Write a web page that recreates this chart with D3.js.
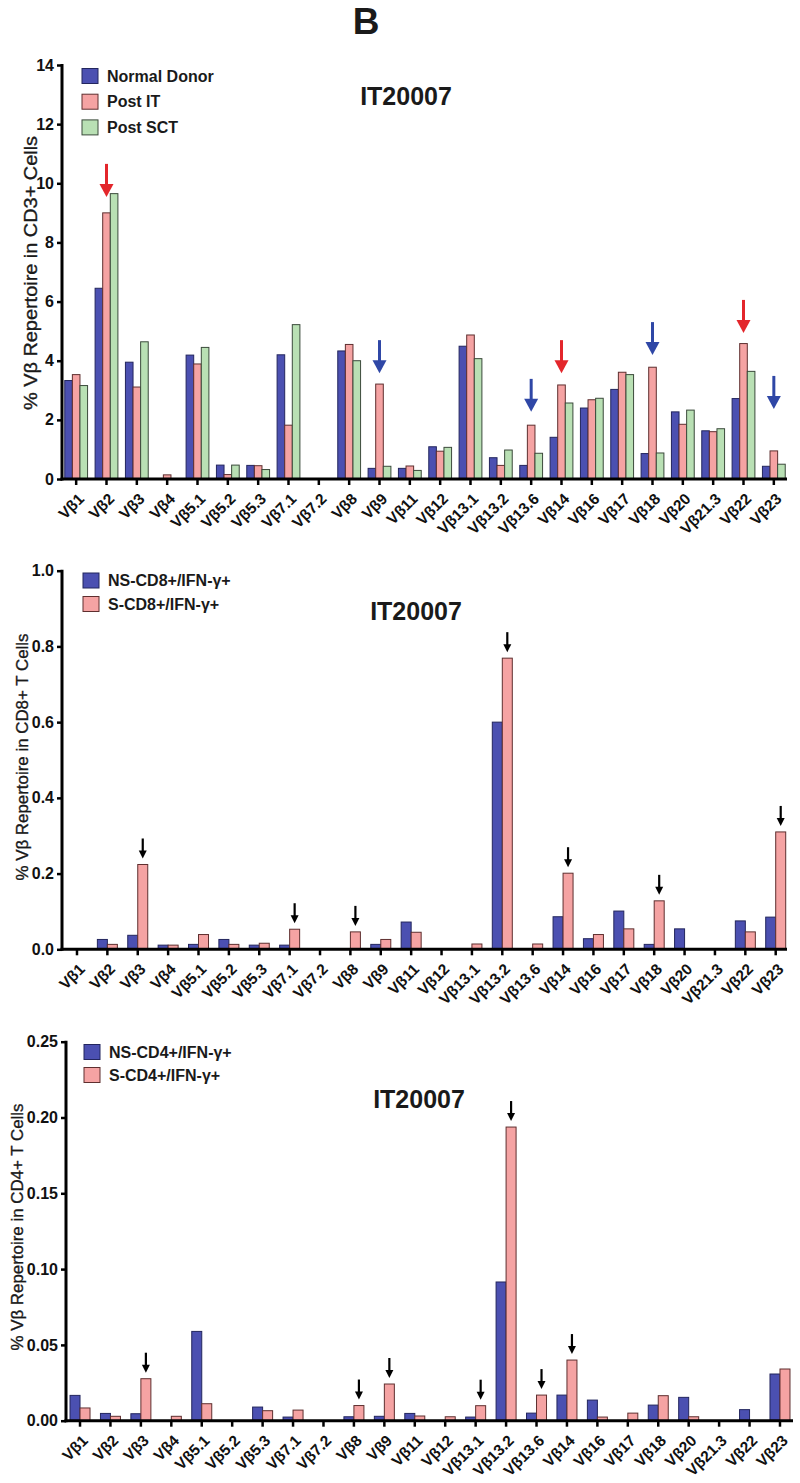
<!DOCTYPE html>
<html><head><meta charset="utf-8">
<script src="https://cdn.jsdelivr.net/npm/d3@7"></script>
<style>
html,body{margin:0;padding:0;background:#fff;}
svg{display:block;font-family:"Liberation Sans",Arial,Helvetica,sans-serif;}
</style></head>
<body>
<svg id="chart" width="800" height="1483"></svg>
<script>
const categories = ["Vβ1","Vβ2","Vβ3","Vβ4","Vβ5.1","Vβ5.2","Vβ5.3","Vβ7.1","Vβ7.2","Vβ8","Vβ9","Vβ11","Vβ12","Vβ13.1","Vβ13.2","Vβ13.6","Vβ14","Vβ16","Vβ17","Vβ18","Vβ20","Vβ21.3","Vβ22","Vβ23"];

// Panel 1: % Vβ repertoire in CD3+ cells
const cd3Series = ["Normal Donor","Post IT","Post SCT"];
const cd3Normal  = [3.33,6.45,3.95,0,4.19,0.47,0.46,4.20,0,4.33,0.36,0.36,1.09,4.49,0.72,0.46,1.41,2.40,3.03,0.86,2.27,1.63,2.72,0.43];
const cd3PostIT  = [3.53,9.00,3.11,0.14,3.89,0.15,0.45,1.82,0,4.55,3.21,0.44,0.94,4.87,0.46,1.82,3.18,2.68,3.61,3.78,1.85,1.60,4.58,0.95];
const cd3PostSCT = [3.16,9.65,4.64,0,4.45,0.47,0.32,5.22,0,4.00,0.43,0.29,1.07,4.07,0.98,0.87,2.57,2.73,3.53,0.88,2.33,1.70,3.64,0.50];
const cd3Ticks = [0,2,4,6,8,10,12,14];
const cd3RedArrows  = ["Vβ2","Vβ14","Vβ22"];
const cd3RedTips    = [9.54,3.58,4.94];
const cd3BlueArrows = ["Vβ9","Vβ13.6","Vβ18","Vβ23"];
const cd3BlueTips   = [3.58,2.27,4.19,2.37];

// Panel 2: % Vβ repertoire in CD8+ T cells
const cd8Series = ["NS-CD8+/IFN-γ+","S-CD8+/IFN-γ+"];
const cd8NS = [0,0.026,0.037,0.011,0.013,0.026,0.011,0.011,0,0,0.013,0.072,0,0,0.600,0,0.086,0.028,0.101,0.013,0.054,0,0.075,0.085];
const cd8S  = [0,0.013,0.224,0.011,0.039,0.013,0.016,0.053,0,0.046,0.026,0.045,0,0.014,0.769,0.014,0.201,0.039,0.054,0.128,0,0,0.046,0.310];
const cd8Ticks = [0,0.2,0.4,0.6,0.8,1.0];
const cd8Arrows = ["Vβ3","Vβ7.1","Vβ8","Vβ13.2","Vβ14","Vβ18","Vβ23"];

// Panel 3: % Vβ repertoire in CD4+ T cells
const cd4Series = ["NS-CD4+/IFN-γ+","S-CD4+/IFN-γ+"];
const cd4NS = [0.0167,0.0048,0.0046,0,0.0589,0,0.0090,0.0024,0,0.0026,0.0029,0.0048,0,0.0024,0.0915,0.0050,0.0169,0.0136,0,0.0103,0.0154,0,0.0073,0.0308];
const cd4S  = [0.0084,0.0029,0.0277,0.0029,0.0112,0,0.0066,0.0070,0,0.0100,0.0242,0.0031,0.0026,0.0099,0.1937,0.0169,0.0400,0.0024,0.0050,0.0165,0.0026,0,0,0.0341];
const cd4Ticks = [0,0.05,0.10,0.15,0.20,0.25];
const cd4Arrows = ["Vβ3","Vβ8","Vβ9","Vβ13.1","Vβ13.2","Vβ13.6","Vβ14"];

const panelTitle = "IT20007";
const figLetter = "B";

const COLORS = {
  blue:  {fill:"#4b50b1", stroke:"#23265e"},
  pink:  {fill:"#f5a3a3", stroke:"#5e2f2f"},
  green: {fill:"#b9e0b4", stroke:"#3b4a3b"}
};

const svg = d3.select("#chart");

svg.append("text").attr("x",366).attr("y",34).attr("text-anchor","middle")
  .attr("font-size",37).attr("font-weight","bold").attr("fill","#1a1a1a").text(figLetter);

function arrow(g, x, tipY, len, headW, headH, shaftW, color){
  g.append("line").attr("x1",x).attr("x2",x).attr("y1",tipY-len).attr("y2",tipY-headH+1)
    .attr("stroke",color).attr("stroke-width",shaftW);
  g.append("path").attr("d",`M${x-headW/2},${tipY-headH}L${x+headW/2},${tipY-headH}L${x},${tipY}Z`)
    .attr("fill",color);
}

function drawPanel(cfg){
  const g = svg.append("g");
  const x = d3.scaleBand().domain(categories).range(cfg.bandRange).paddingInner(0).paddingOuter(0);
  const y = d3.scaleLinear().domain([0, cfg.ymax]).range([cfg.y0, cfg.y1]);
  const inner = d3.scaleBand().domain(cfg.series.map((s,i)=>i)).range([0, cfg.barW*cfg.series.length]);
  const groupW = cfg.barW*cfg.series.length;

  // bars
  cfg.values.forEach((vals, si) => {
    const c = cfg.colors[si];
    g.append("g").selectAll("rect").data(categories.map((cat,i)=>({cat, v:vals[i]})).filter(d=>d.v>0))
      .join("rect")
      .attr("x", d => x(d.cat) + x.bandwidth()/2 - groupW/2 + inner(si))
      .attr("width", inner.bandwidth())
      .attr("y", d => y(d.v))
      .attr("height", d => y(0) - y(d.v))
      .attr("fill", c.fill).attr("stroke", c.stroke).attr("stroke-width", 1);
  });

  // y axis
  const yAxis = d3.axisLeft(y).tickValues(cfg.ticks).tickFormat(cfg.fmt).tickSize(5).tickSizeOuter(0).tickPadding(3);
  const ya = g.append("g").attr("transform",`translate(${cfg.xAxisLeft},0)`).call(yAxis);
  ya.select(".domain").attr("stroke","#000").attr("stroke-width",3).attr("d",`M0,${cfg.y1-1}V${cfg.y0+1.5}`);
  ya.selectAll(".tick line").attr("stroke","#000").attr("stroke-width",2.5);
  ya.selectAll(".tick text").attr("font-size",16).attr("font-weight","bold").attr("fill","#111")
    .attr("font-family","'Liberation Sans',Arial,sans-serif");

  // x axis
  const xAxis = d3.axisBottom(x).tickSize(6).tickSizeOuter(0).tickPadding(4);
  const xa = g.append("g").attr("transform",`translate(0,${cfg.y0})`).call(xAxis);
  xa.select(".domain").attr("stroke","#000").attr("stroke-width",3).attr("d",`M${cfg.xAxisLeft-1.5},0H${cfg.xAxisRight}`);
  xa.selectAll(".tick line").attr("stroke","#000").attr("stroke-width",2.5);
  xa.selectAll(".tick text")
    .attr("font-size",15.5).attr("font-weight","bold").attr("fill","#111")
    .attr("font-family","'Liberation Sans',Arial,sans-serif")
    .attr("text-anchor","end").attr("y",0).attr("dy","0.35em")
    .attr("transform","translate(5,17) rotate(-45)");

  // y label
  g.append("text").attr("transform",`translate(${cfg.ylabX},${cfg.ylabY}) rotate(-90)`)
    .attr("text-anchor","middle").attr("dy","0.35em")
    .attr("font-size",cfg.ylabSize).attr("fill","#1a1a1a")
    .attr("stroke","#1a1a1a").attr("stroke-width",0.35)
    .attr("textLength",cfg.ylabLen).attr("lengthAdjust","spacingAndGlyphs")
    .text(cfg.ylabel);

  // title
  g.append("text").attr("x",cfg.titleX).attr("y",cfg.titleY).attr("text-anchor","middle")
    .attr("font-size",25).attr("font-weight","bold").attr("fill","#1a1a1a").text(panelTitle);

  // legend
  cfg.series.forEach((s,i) => {
    const ly = cfg.legY + i*cfg.legStep;
    g.append("rect").attr("x",cfg.legX).attr("y",ly-7.5).attr("width",16).attr("height",15)
      .attr("fill",cfg.colors[i].fill).attr("stroke",cfg.colors[i].stroke).attr("stroke-width",1);
    g.append("text").attr("x",cfg.legX+25).attr("y",ly).attr("dy","0.35em")
      .attr("font-size",16).attr("font-weight","bold").attr("fill","#1a1a1a").text(s);
  });

  return {g, x, y, inner, groupW};
}

// Panel 1
const p1 = drawPanel({
  series: cd3Series, values:[cd3Normal, cd3PostIT, cd3PostSCT],
  colors:[COLORS.blue, COLORS.pink, COLORS.green],
  ymax:14, ticks:cd3Ticks, fmt:d3.format("d"),
  bandRange:[61,789], xAxisLeft:62, xAxisRight:787, y0:479, y1:65, barW:7.6,
  ylabel:"% Vβ Repertoire in CD3+ Cells", ylabX:31, ylabY:273, ylabSize:18, ylabLen:274,
  titleX:406, titleY:105, legX:82, legY:76, legStep:25.7
});
function cd3Arrows(cats, tips, color){
  cats.forEach((c,i) => {
    const cx = p1.x(c) + p1.x.bandwidth()/2;
    arrow(p1.g, cx, p1.y(tips[i]), 33, 14, 13, 3, color);
  });
}
cd3Arrows(cd3RedArrows, cd3RedTips, "#e3262b");
cd3Arrows(cd3BlueArrows, cd3BlueTips, "#2f47a6");

// Panel 2
const p2 = drawPanel({
  series: cd8Series, values:[cd8NS, cd8S],
  colors:[COLORS.blue, COLORS.pink],
  ymax:1.0, ticks:cd8Ticks, fmt:d3.format(".1f"),
  bandRange:[61.8,790.9], xAxisLeft:62, xAxisRight:787, y0:949.3, y1:570.7, barW:10,
  ylabel:"% Vβ Repertoire in CD8+ T Cells", ylabX:22, ylabY:757, ylabSize:17, ylabLen:247,
  titleX:416, titleY:620, legX:83, legY:580.5, legStep:23.5
});
function blackArrows(p, cats, svals){
  cats.forEach(c => {
    const i = categories.indexOf(c);
    const cx = p.x(c) + p.x.bandwidth()/2 - p.groupW/2 + p.inner(1) + p.inner.bandwidth()/2;
    arrow(p.g, cx, p.y(svals[i]) - 6, 20, 8, 8, 2.2, "#000");
  });
}
blackArrows(p2, cd8Arrows, cd8S);

// Panel 3
const p3 = drawPanel({
  series: cd4Series, values:[cd4NS, cd4S],
  colors:[COLORS.blue, COLORS.pink],
  ymax:0.25, ticks:cd4Ticks, fmt:d3.format(".2f"),
  bandRange:[64.8,795.2], xAxisLeft:66, xAxisRight:793, y0:1420.7, y1:1041.7, barW:10,
  ylabel:"% Vβ Repertoire in CD4+ T Cells", ylabX:17, ylabY:1227, ylabSize:17, ylabLen:247,
  titleX:419, titleY:1108, legX:84, legY:1052, legStep:23
});
blackArrows(p3, cd4Arrows, cd4S);
</script>
</body></html>
